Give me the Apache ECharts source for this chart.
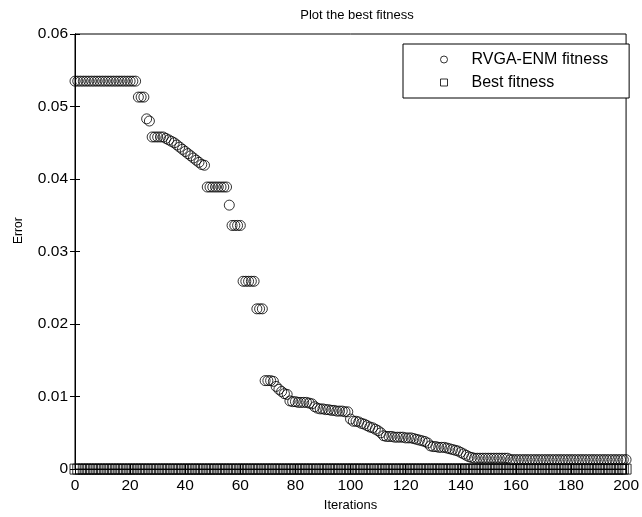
<!DOCTYPE html>
<html>
<head>
<meta charset="utf-8">
<script src="https://cdn.jsdelivr.net/npm/echarts@6/dist/echarts.min.js"></script>
<style>
html,body{margin:0;padding:0;background:#fff;}
#chart{width:642px;height:517px;}
</style>
</head>
<body>
<div id="chart"></div>
<script>
// RVGA-ENM fitness per iteration (index = iteration 0..200)
const rvgaFitness = [
  0.0535,0.0535,0.0535,0.0535,0.0535,0.0535,0.0535,0.0535,0.0535,0.0535,
  0.0535,0.0535,0.0535,0.0535,0.0535,0.0535,0.0535,0.0535,0.0535,0.0535,
  0.0535,0.0535,0.0535,0.0513,0.0513,0.0513,0.0483,0.0480,0.0458,0.0458,
  0.0458,0.0458,0.0458,0.0456,0.0454,0.0452,0.0450,0.0447,0.0444,0.0441,
  0.0438,0.0435,0.0432,0.0429,0.0426,0.0423,0.0420,0.0419,0.0389,0.0389,
  0.0389,0.0389,0.0389,0.0389,0.0389,0.0389,0.0364,0.0336,0.0336,0.0336,
  0.0336,0.0259,0.0259,0.0259,0.0259,0.0259,0.0221,0.0221,0.0221,0.0122,
  0.0122,0.0122,0.0121,0.0114,0.0110,0.0107,0.0104,0.0103,0.0094,0.0093,
  0.0093,0.0092,0.0092,0.0092,0.0092,0.0091,0.0090,0.0086,0.0084,0.0083,
  0.0083,0.0082,0.0082,0.0081,0.0081,0.0080,0.0080,0.0080,0.0079,0.0079,
  0.0069,0.0066,0.0066,0.0065,0.0063,0.0062,0.0060,0.0058,0.0057,0.0055,
  0.0053,0.0050,0.0046,0.0045,0.0045,0.0045,0.0044,0.0044,0.0044,0.0044,
  0.0043,0.0043,0.0043,0.0042,0.0041,0.0040,0.0039,0.0038,0.0036,0.0032,
  0.0031,0.0031,0.0030,0.0030,0.0030,0.0029,0.0028,0.0027,0.0026,0.0025,
  0.0023,0.0021,0.0019,0.0017,0.0016,0.0015,0.0015,0.0015,0.0015,0.0015,
  0.0015,0.0015,0.0015,0.0015,0.0015,0.0015,0.0015,0.0015,0.0013,0.0013,
  0.0013,0.0013,0.0013,0.0013,0.0013,0.0013,0.0013,0.0013,0.0013,0.0013,
  0.0013,0.0013,0.0013,0.0013,0.0013,0.0013,0.0013,0.0013,0.0013,0.0013,
  0.0013,0.0013,0.0013,0.0013,0.0013,0.0013,0.0013,0.0013,0.0013,0.0013,
  0.0013,0.0013,0.0013,0.0013,0.0013,0.0013,0.0013,0.0013,0.0013,0.0013,
  0.0013
];
// Best fitness per iteration (index = iteration 0..200)
const bestFitness = [
  0,0,0,0,0,0,0,0,0,0, 0,0,0,0,0,0,0,0,0,0,
  0,0,0,0,0,0,0,0,0,0, 0,0,0,0,0,0,0,0,0,0,
  0,0,0,0,0,0,0,0,0,0, 0,0,0,0,0,0,0,0,0,0,
  0,0,0,0,0,0,0,0,0,0, 0,0,0,0,0,0,0,0,0,0,
  0,0,0,0,0,0,0,0,0,0, 0,0,0,0,0,0,0,0,0,0,
  0,0,0,0,0,0,0,0,0,0, 0,0,0,0,0,0,0,0,0,0,
  0,0,0,0,0,0,0,0,0,0, 0,0,0,0,0,0,0,0,0,0,
  0,0,0,0,0,0,0,0,0,0, 0,0,0,0,0,0,0,0,0,0,
  0,0,0,0,0,0,0,0,0,0, 0,0,0,0,0,0,0,0,0,0,
  0,0,0,0,0,0,0,0,0,0, 0,0,0,0,0,0,0,0,0,0,
  0
];
const xTicks = [0, 20, 40, 60, 80, 100, 120, 140, 160, 180, 200];
const yTicks = [0, 0.01, 0.02, 0.03, 0.04, 0.05, 0.06];
const seriesNames = ['RVGA-ENM fitness', 'Best fitness'];
const titleText = 'Plot the best fitness';
const xName = 'Iterations';
const yName = 'Error';

const FONT = 'Liberation Sans, Arial, sans-serif';
const toPairs = arr => arr.map((v, i) => [i, v]);

const chart = echarts.init(document.getElementById('chart'), null, {renderer: 'canvas'});
const hollow = {color: 'rgba(0,0,0,0)', borderColor: '#000', borderWidth: 1};
const tickCommon = {show: true, inside: true, length: 5, lineStyle: {color: '#000', width: 1}};

chart.setOption({
  animation: false,
  backgroundColor: '#fff',
  title: {
    text: titleText, left: 352, top: 4, textAlign: 'center',
    textStyle: {fontFamily: FONT, fontSize: 13, fontWeight: 'normal', color: '#000'}
  },
  grid: {left: 75, right: 13, top: 34, bottom: 46, containLabel: false, show: true, borderColor: '#000', borderWidth: 1},
  legend: {
    orient: 'vertical', left: 403, top: 44,
    backgroundColor: '#fff', borderColor: '#000', borderWidth: 1,
    padding: [4, 21, 4, 37],
    itemWidth: 7, itemHeight: 7, itemGap: 0,
    textStyle: {fontFamily: FONT, fontSize: 16, color: '#000', lineHeight: 23, padding: [0, 0, 0, 19]},
    data: [
      {name: seriesNames[0], icon: 'circle', itemStyle: hollow},
      {name: seriesNames[1], icon: 'rect', itemStyle: hollow}
    ]
  },
  xAxis: [{
    type: 'value', min: xTicks[0], max: xTicks[xTicks.length - 1], interval: xTicks[1] - xTicks[0],
    position: 'bottom',
    name: xName, nameLocation: 'middle', nameGap: 29,
    nameTextStyle: {fontFamily: FONT, fontSize: 13, color: '#000'},
    axisLine: {show: true, onZero: false, lineStyle: {color: '#000', width: 1}},
    axisTick: tickCommon,
    axisLabel: {fontFamily: FONT, fontSize: 15.5, color: '#000', margin: 9},
    splitLine: {show: false}
  }, {
    type: 'value', min: xTicks[0], max: xTicks[xTicks.length - 1], interval: xTicks[1] - xTicks[0],
    position: 'top',
    axisLine: {show: true, lineStyle: {color: '#000', width: 1}},
    axisTick: tickCommon, axisLabel: {show: false}, splitLine: {show: false}
  }],
  yAxis: [{
    type: 'value', min: yTicks[0], max: yTicks[yTicks.length - 1], interval: yTicks[1] - yTicks[0],
    position: 'left',
    name: yName, nameLocation: 'middle', nameGap: 50, nameRotate: 90,
    nameTextStyle: {fontFamily: FONT, fontSize: 12, color: '#000', padding: [0, 0, 0, 42]},
    axisLine: {show: true, onZero: false, lineStyle: {color: '#000', width: 1}},
    axisTick: tickCommon,
    axisLabel: {fontFamily: FONT, fontSize: 15.5, color: '#000', margin: 7,
      formatter: v => (v === 0 ? '0' : v.toFixed(2))},
    splitLine: {show: false}
  }, {
    type: 'value', min: yTicks[0], max: yTicks[yTicks.length - 1], interval: yTicks[1] - yTicks[0],
    position: 'right',
    axisLine: {show: true, lineStyle: {color: '#000', width: 1}},
    axisTick: tickCommon, axisLabel: {show: false}, splitLine: {show: false}
  }],
  series: [{
    name: seriesNames[0], type: 'scatter', xAxisIndex: 0, yAxisIndex: 0,
    symbol: 'circle', symbolSize: 10, itemStyle: hollow,
    data: toPairs(rvgaFitness), z: 3
  }, {
    name: seriesNames[1], type: 'scatter', xAxisIndex: 0, yAxisIndex: 0,
    symbol: 'rect', symbolSize: 10, itemStyle: hollow,
    data: toPairs(bestFitness), z: 4
  }]
});
</script>
</body>
</html>
